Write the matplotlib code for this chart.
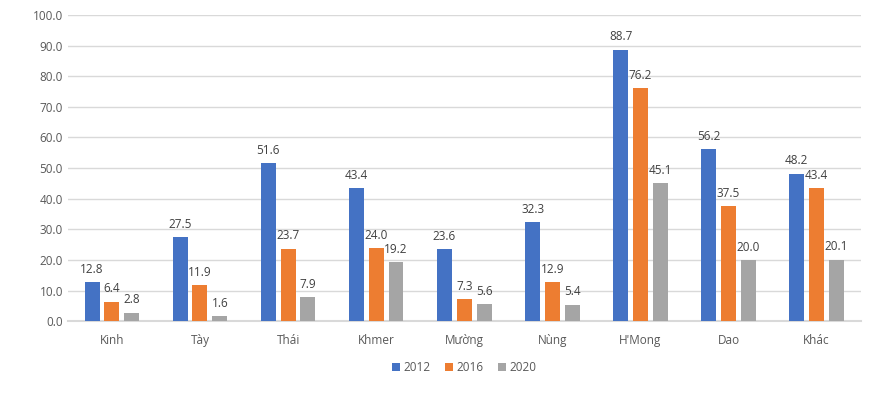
import numpy as np
import matplotlib.pyplot as plt

categories = ['Kinh', 'Tày', 'Thái', 'Khmer', 'Mường', 'Nùng', "H'Mong", 'Dao', 'Khác']
v2012 = [12.8, 27.5, 51.6, 43.4, 23.6, 32.3, 88.7, 56.2, 48.2]
v2016 = [6.4, 11.9, 23.7, 24.0, 7.3, 12.9, 76.2, 37.5, 43.4]
v2020 = [2.8, 1.6, 7.9, 19.2, 5.6, 5.4, 45.1, 20.0, 20.1]
years = ['2012', '2016', '2020']
colors = ['#4472C4', '#ED7D31', '#A5A5A5']

plt.rcParams['font.family'] = ['Open Sans', 'DejaVu Sans']
txt = '#595959'

fig = plt.figure(figsize=(8.81, 3.95), dpi=100)
ax = fig.add_axes([0.077, 0.187, 0.900, 0.775])

x = np.arange(len(categories))
w = 0.17
step = 0.225
for i, (vals, c, lab) in enumerate(zip([v2012, v2016, v2020], colors, years)):
    pos = x + (i - 1) * step
    bars = ax.bar(pos, vals, width=w, color=c, label=lab, zorder=3)
    for p, v in zip(pos, vals):
        ax.text(p, v + 2, f'{v:.1f}', ha='center', va='bottom', fontsize=8.5, color='#404040')

ax.set_ylim(0, 100)
ax.set_xlim(-0.5, len(categories) - 0.5)
ax.set_yticks(np.arange(0, 101, 10))
ax.set_yticklabels([f'{t:.1f}' for t in np.arange(0, 101, 10)])
ax.set_xticks(x)
ax.set_xticklabels(categories)
ax.tick_params(axis='both', length=0, labelsize=8.5, colors=txt)
ax.tick_params(axis='x', pad=9)
ax.grid(axis='y', color='#D9D9D9', linewidth=1, zorder=0)
for s in ['top', 'right', 'left']:
    ax.spines[s].set_visible(False)
ax.spines['bottom'].set_color('#D9D9D9')
ax.spines['bottom'].set_linewidth(1.5)

ax.legend(loc='upper center', bbox_to_anchor=(0.5, -0.095), ncol=3, frameon=False,
          fontsize=8.5, handlelength=0.7, handleheight=0.7, handletextpad=0.3,
          columnspacing=1.2, labelcolor=txt)

fig.savefig('out.png', dpi=100)
